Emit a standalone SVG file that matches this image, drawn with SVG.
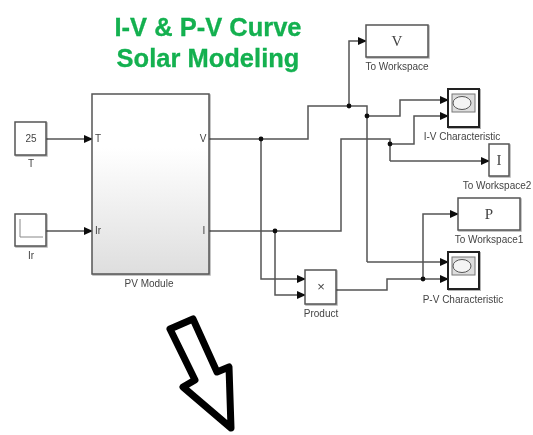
<svg xmlns="http://www.w3.org/2000/svg" width="533" height="435" viewBox="0 0 533 435">
<style>
text{font-family:"Liberation Sans",Arial,sans-serif;fill:#444;font-size:10px;text-anchor:middle}
.title{font-weight:bold;font-size:25.5px;fill:#12b04f;stroke:#12b04f;stroke-width:0.3}
.b{fill:#fff;stroke:#555;stroke-width:1.5}
.s{fill:#fff;stroke:#222;stroke-width:2}
.sym{font-family:"Liberation Serif",serif;font-size:15px;fill:#444}
.w{fill:none;stroke:#555;stroke-width:1.5}
.d{fill:#111}
.port{text-anchor:start}
</style>
<defs>
<linearGradient id="g" x1="0" y1="0" x2="0" y2="1"><stop offset="0.3" stop-color="#fff"/><stop offset="1" stop-color="#dedede"/></linearGradient>
<marker id="a" markerWidth="9" markerHeight="8" refX="8" refY="4" orient="auto" markerUnits="userSpaceOnUse"><path d="M0 0L9 4L0 8Z" fill="#111"/></marker>
<filter id="sh" x="-10%" y="-10%" width="125%" height="125%"><feDropShadow dx="1" dy="1" stdDeviation="0.7" flood-color="#000" flood-opacity="0.3"/></filter>
<filter id="bl"><feGaussianBlur stdDeviation="0.45"/></filter>
</defs>
<rect width="533" height="435" fill="#fff"/>
<g filter="url(#bl)">
<text class="title" x="208" y="36">I-V &amp; P-V Curve</text>
<text class="title" x="208" y="67">Solar Modeling</text>

<g id="connectors">
<path class="w" marker-end="url(#a)" d="M46 139H92"/>
<path class="w" marker-end="url(#a)" d="M46 231H92"/>
<path class="w" d="M209 139H308V106H367V262"/>
<path class="w" marker-end="url(#a)" d="M349 106V41H366"/>
<path class="w" marker-end="url(#a)" d="M367 116H400V100H448"/>
<path class="w" marker-end="url(#a)" d="M367 262H448"/>
<path class="w" marker-end="url(#a)" d="M261 139V279H305"/>
<path class="w" d="M209 231H341V139H390V161"/>
<path class="w" marker-end="url(#a)" d="M390 144H414V116H448"/>
<path class="w" marker-end="url(#a)" d="M390 161H489"/>
<path class="w" marker-end="url(#a)" d="M275 231V295H305"/>
<path class="w" marker-end="url(#a)" d="M336 290H387V279H448"/>
<path class="w" marker-end="url(#a)" d="M423 279V214H458"/>
<circle class="d" cx="261" cy="139" r="2.4"/>
<circle class="d" cx="349" cy="106" r="2.4"/>
<circle class="d" cx="367" cy="116" r="2.4"/>
<circle class="d" cx="390" cy="144" r="2.4"/>
<circle class="d" cx="275" cy="231" r="2.4"/>
<circle class="d" cx="423" cy="279" r="2.4"/>
</g>

<g id="t-block"><rect class="b" filter="url(#sh)" x="15" y="122" width="31" height="33"/><text x="31" y="142">25</text><text x="31" y="167">T</text></g>
<g id="ir-block"><rect class="b" filter="url(#sh)" x="15" y="214" width="31" height="32"/><path d="M20 219V237H43" fill="none" stroke="#888" stroke-width="1"/><text x="31" y="259">Ir</text></g>
<g id="pv-module"><rect filter="url(#sh)" x="92" y="94" width="117" height="180" fill="url(#g)" stroke="#555" stroke-width="1.5"/>
<text class="port" x="95" y="142">T</text><text class="port" x="95" y="234">Ir</text>
<text x="203" y="142">V</text><text x="204" y="234">I</text><text x="149" y="287">PV Module</text></g>
<g id="to-workspace"><rect class="b" filter="url(#sh)" x="366" y="25" width="62" height="32"/><text class="sym" x="397" y="46">V</text><text x="397" y="70">To Workspace</text></g>
<g id="iv-scope"><rect class="s" filter="url(#sh)" x="448" y="89" width="31" height="38"/><rect x="452" y="94" width="23" height="18" fill="#ddd" stroke="#777"/><ellipse cx="462" cy="103" rx="9" ry="6.5" fill="#f4f4f4" stroke="#555"/><text x="462" y="140">I-V Characteristic</text></g>
<g id="to-workspace2"><rect class="b" filter="url(#sh)" x="489" y="144" width="20" height="32"/><text class="sym" x="499" y="165">I</text><text x="497" y="189">To Workspace2</text></g>
<g id="to-workspace1"><rect class="b" filter="url(#sh)" x="458" y="198" width="62" height="32"/><text class="sym" x="489" y="219">P</text><text x="489" y="243">To Workspace1</text></g>
<g id="pv-scope"><rect class="s" filter="url(#sh)" x="448" y="252" width="31" height="37"/><rect x="452" y="257" width="23" height="18" fill="#ddd" stroke="#777"/><ellipse cx="462" cy="266" rx="9" ry="6.5" fill="#f4f4f4" stroke="#555"/><text x="463" y="303">P-V Characteristic</text></g>
<g id="product"><rect class="b" filter="url(#sh)" x="305" y="270" width="31" height="34"/><text x="321" y="291" style="font-size:13px">×</text><text x="321" y="317">Product</text></g>
<path id="big-arrow" d="M170 329L193 319L217 372L229 367L231 428L183 387L195 380Z" fill="#fff" stroke="#000" stroke-width="7" stroke-linejoin="round"/>
</g>
</svg>
